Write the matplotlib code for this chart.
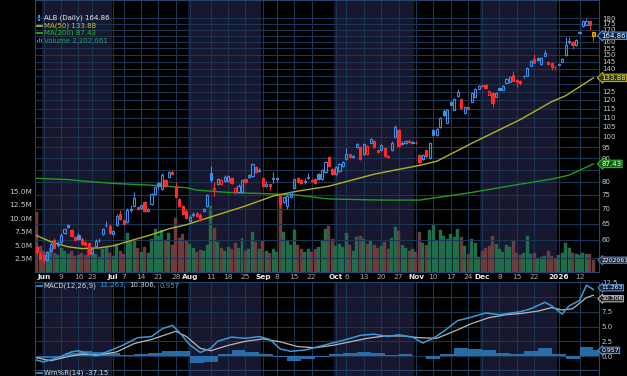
import numpy as np
import pandas as pd
import matplotlib
matplotlib.use("Agg")
import matplotlib.pyplot as plt
from matplotlib import transforms
from matplotlib.patches import Rectangle

plt.rcParams['font.family'] = ['DejaVu Sans']

# trading days shown on the chart
holidays = ["2025-06-19", "2025-07-04", "2025-09-01", "2025-11-27", "2025-12-25", "2026-01-01"]
dates = pd.bdate_range("2025-05-29", "2026-01-16")
dates = dates[~dates.isin(pd.to_datetime(holidays))]

opens = [58.0, 56.1, 55.6, 54.4, 56.9, 59.9, 58.6, 59.5, 62.2, 64.7,
         63.1, 61.0, 61.6, 60.4, 59.5, 59.2, 56.2, 58.3, 59.9, 61.9,
         64.5, 64.4, 61.8, 64.7, 68.3, 66.3, 65.6, 69.7, 71.0, 70.6,
         70.3, 72.3, 69.2, 71.6, 75.3, 79.5, 77.2, 80.7, 81.9, 84.0,
         78.3, 73.5, 70.9, 69.3, 66.0, 68.3, 68.6, 68.0, 69.3, 71.0,
         83.5, 77.6, 79.1, 79.1, 80.3, 80.3, 81.5, 76.0, 76.2, 76.0,
         81.1, 81.9, 82.3, 86.0, 85.0, 81.5, 78.4, 79.0, 81.3, 81.3,
         74.5, 72.4, 71.0, 74.2, 77.6, 81.5, 80.7, 80.0, 81.5, 80.8,
         81.1, 83.1, 81.1, 83.9, 90.3, 85.2, 83.1, 84.3, 86.6, 89.5,
         91.6, 90.5, 94.9, 94.9, 91.6, 91.6, 97.2, 97.7, 93.5, 93.5,
         94.5, 91.0, 93.5, 99.7, 103.2, 96.5, 96.8, 97.9, 97.2, 97.2,
         91.2, 89.5, 93.5, 89.9, 103.2, 101.1, 104.7, 113.8, 107.3, 119.0,
         114.4, 122.5, 120.7, 112.7, 115.6, 119.0, 121.9, 126.8, 128.9, 129.3,
         123.2, 124.4, 121.9, 127.1, 126.2, 130.6, 131.3, 135.9, 132.6, 131.9,
         134.9, 135.2, 142.1, 147.1, 147.8, 143.5, 149.2, 144.9, 144.2, 141.5,
         143.0, 144.9, 149.9, 160.7, 159.9, 157.5, 168.0, 173.0, 174.3, 177.0,
         168.0]
highs = [58.6, 56.9, 56.2, 56.8, 59.5, 60.5, 59.8, 62.2, 63.8, 65.0,
         63.5, 61.3, 62.0, 60.8, 59.8, 59.5, 57.8, 60.2, 60.6, 63.8,
         66.0, 64.8, 63.0, 68.3, 69.5, 66.6, 70.2, 71.5, 76.0, 71.0,
         71.5, 72.8, 70.3, 75.8, 78.5, 80.0, 83.5, 81.3, 84.5, 84.8,
         80.0, 74.0, 71.3, 69.8, 67.8, 68.8, 69.0, 68.5, 70.2, 75.5,
         86.4, 80.0, 81.5, 81.2, 82.7, 82.8, 82.0, 78.0, 79.0, 81.2,
         81.5, 83.0, 87.9, 86.5, 85.5, 82.0, 80.3, 79.3, 84.0, 82.0,
         75.5, 74.6, 75.0, 76.5, 81.6, 82.0, 81.0, 81.5, 83.5, 81.2,
         81.5, 83.6, 85.2, 88.8, 91.0, 85.6, 86.4, 88.0, 88.6, 94.5,
         92.0, 91.5, 96.8, 95.3, 96.8, 95.8, 99.5, 98.2, 94.0, 96.3,
         95.0, 91.5, 97.7, 106.2, 104.0, 98.0, 98.5, 99.0, 98.0, 97.8,
         92.0, 91.8, 94.0, 97.3, 103.7, 104.2, 110.5, 114.5, 114.6, 119.5,
         121.3, 126.5, 121.3, 116.5, 116.2, 125.0, 127.3, 129.2, 129.3, 129.8,
         126.0, 124.9, 125.0, 127.6, 129.2, 133.7, 135.0, 138.5, 133.0, 132.3,
         135.9, 141.2, 146.2, 150.5, 148.3, 148.3, 153.5, 145.3, 144.6, 142.0,
         144.2, 148.0, 163.9, 163.5, 160.5, 162.5, 169.0, 178.5, 179.0, 178.5,
         168.5]
lows = [56.0, 54.2, 53.6, 54.0, 56.5, 57.3, 58.0, 59.0, 61.8, 63.6,
        61.0, 59.8, 60.0, 58.5, 58.2, 55.8, 55.8, 58.0, 59.4, 61.5,
        64.0, 61.8, 61.5, 64.3, 66.2, 64.6, 65.2, 69.0, 70.5, 69.5,
        70.0, 69.0, 68.8, 71.2, 75.0, 77.6, 76.8, 77.9, 81.5, 82.7,
        73.8, 70.5, 67.8, 66.5, 65.5, 67.3, 67.2, 65.9, 68.9, 70.6,
        80.0, 74.5, 78.7, 78.8, 80.0, 80.0, 79.1, 75.5, 75.8, 75.6,
        79.5, 81.5, 82.0, 83.5, 83.8, 77.9, 78.0, 77.0, 79.5, 80.0,
        70.3, 72.0, 69.9, 73.8, 77.2, 79.5, 79.1, 79.3, 81.0, 79.9,
        79.0, 80.7, 80.7, 83.5, 86.0, 82.7, 82.7, 84.0, 86.2, 89.0,
        89.9, 90.0, 94.5, 89.0, 91.2, 91.2, 96.8, 94.5, 92.2, 93.0,
        90.3, 90.0, 93.0, 99.2, 95.0, 95.8, 96.5, 97.0, 96.8, 96.5,
        87.5, 89.0, 90.3, 89.5, 100.6, 100.6, 104.2, 111.0, 107.0, 116.8,
        114.0, 122.0, 115.0, 112.2, 114.5, 118.5, 121.5, 126.4, 127.9, 126.6,
        122.8, 116.0, 121.5, 125.8, 125.8, 130.2, 131.0, 131.5, 128.0, 129.3,
        134.0, 134.8, 141.7, 143.8, 145.8, 143.0, 148.8, 143.1, 139.5, 139.5,
        142.5, 144.5, 149.5, 158.5, 154.5, 157.0, 166.5, 172.5, 173.5, 169.6,
        160.5]
closes = [56.6, 54.7, 54.2, 56.4, 58.9, 57.8, 58.9, 61.6, 63.4, 64.0,
          61.3, 60.1, 60.4, 58.9, 58.6, 56.1, 57.5, 59.8, 60.1, 63.4,
          64.7, 62.2, 62.6, 67.6, 66.6, 65.0, 69.6, 70.0, 73.8, 70.0,
          71.3, 69.3, 69.8, 75.3, 77.9, 78.2, 82.7, 78.3, 83.9, 83.1,
          74.2, 70.9, 68.2, 66.9, 67.3, 67.9, 67.6, 66.3, 69.9, 74.9,
          80.7, 77.3, 81.1, 80.7, 81.9, 82.3, 79.5, 77.5, 78.5, 80.7,
          79.9, 82.7, 87.3, 83.9, 84.3, 78.3, 79.3, 78.4, 81.5, 81.7,
          71.6, 74.2, 74.6, 76.0, 81.1, 79.9, 79.5, 80.3, 81.9, 80.3,
          79.5, 81.1, 84.7, 88.2, 86.4, 83.1, 86.0, 87.3, 88.2, 91.6,
          90.3, 90.8, 96.3, 89.5, 96.3, 95.3, 98.7, 94.9, 92.6, 95.8,
          90.8, 90.5, 97.2, 105.2, 95.3, 96.8, 97.7, 97.4, 97.6, 96.8,
          88.2, 91.2, 90.8, 96.8, 101.1, 103.7, 110.0, 111.6, 114.0, 117.2,
          120.7, 125.0, 115.5, 116.0, 115.0, 124.4, 126.8, 128.7, 128.3, 127.0,
          125.6, 118.4, 124.4, 126.2, 128.7, 133.2, 134.5, 131.9, 131.3, 130.6,
          135.2, 140.7, 145.6, 144.2, 146.3, 147.8, 151.4, 143.5, 141.4, 141.0,
          143.5, 147.0, 157.5, 159.5, 157.5, 161.5, 167.1, 177.3, 177.6, 173.5,
          164.86]
# volume in millions of shares
volume = [11.1, 4.8, 4.0, 3.6, 4.5, 3.6, 3.2, 4.4, 4.0, 3.4,
          3.9, 3.0, 3.2, 3.5, 3.1, 4.6, 3.8, 3.3, 2.8, 4.2,
          4.6, 3.6, 3.0, 5.2, 4.0, 3.3, 7.3, 5.8, 6.0, 4.4,
          3.8, 4.7, 3.6, 6.2, 8.0, 6.7, 7.9, 6.0, 7.2, 5.0,
          10.0, 6.3, 7.0, 6.0, 5.2, 4.4, 3.8, 4.1, 3.9, 5.0,
          12.3, 8.2, 5.5, 4.4, 4.0, 4.6, 4.2, 5.4, 4.5, 6.3,
          4.0, 4.2, 7.4, 5.5, 4.3, 5.8, 4.0, 3.6, 4.2, 3.8,
          13.8, 7.5, 6.0, 5.0, 7.8, 5.0, 4.2, 3.8, 4.2, 3.7,
          4.3, 4.6, 6.0, 8.0, 8.6, 6.2, 4.8, 5.2, 4.6, 7.2,
          5.0, 4.0, 6.6, 6.8, 6.2, 5.2, 6.0, 5.0, 4.5, 4.8,
          5.5, 4.2, 6.4, 8.4, 7.6, 5.0, 4.4, 4.0, 4.2, 3.8,
          7.5, 5.4, 5.0, 7.8, 9.0, 6.0, 7.8, 6.8, 6.2, 7.0,
          6.6, 8.0, 6.6, 4.8, 3.4, 6.2, 5.4, 2.8, 4.0, 4.4,
          4.8, 6.8, 5.2, 4.2, 3.8, 5.0, 4.6, 6.0, 3.6, 3.2,
          3.6, 6.7, 3.3, 3.5, 2.5, 2.8, 3.0, 4.0, 3.0, 2.4,
          3.2, 3.6, 5.4, 4.5, 3.5, 3.4, 3.2, 3.5, 3.3, 3.4,
          2.202061]

# moving averages (day index, value)
ma50_days = [0, 4, 9, 13, 18, 22, 26, 33, 38, 43, 51, 60, 68, 75, 84, 97,
             110, 115, 125, 139, 144, 148, 152, 160]
ma50_vals = [61.3, 59.5, 58.0, 57.5, 57.7, 58.3, 59.5, 61.6, 63.4, 64.7, 67.6,
             71.0, 74.6, 76.4, 78.3, 83.1, 86.8, 88.6, 96.8, 108.9, 114.4,
             119.0, 122.5, 133.88]
ma200_days = [0, 9, 16, 23, 33, 43, 46, 55, 65, 75, 84, 99, 110, 124, 139,
              148, 153, 160]
ma200_vals = [81.4, 80.9, 80.0, 79.3, 78.7, 77.7, 76.8, 75.9, 75.5, 74.9,
              73.5, 73.1, 73.1, 75.7, 79.1, 81.1, 82.7, 87.43]

macd_days = [0, 2, 6, 10, 12, 15, 17, 21, 25, 29, 33, 36, 39, 41, 44, 47,
             50, 52, 56, 60, 64, 67, 70, 73, 77, 81, 85, 89, 93, 97, 101,
             104, 108, 111, 114, 117, 121, 125, 129, 133, 139, 142, 146,
             148, 151, 153, 156, 158, 160]
macd_vals = [-0.7, -1.0, -0.3, 0.7, 0.9, 0.3, 0.0, 0.9, 1.9, 3.1, 3.3, 4.6,
             5.2, 4.0, 1.9, 0.6, 1.3, 2.5, 3.2, 3.0, 3.3, 2.8, 1.2, 0.8, 1.0,
             1.6, 2.2, 2.8, 3.5, 3.7, 3.3, 3.6, 3.2, 2.2, 3.0, 4.2, 6.0, 6.6,
             7.3, 7.0, 7.5, 8.0, 9.1, 8.5, 7.1, 8.5, 9.4, 12.0, 11.263]
signal_days = [0, 4, 9, 13, 18, 23, 28, 33, 38, 40, 43, 47, 50, 55, 60, 65,
               70, 75, 80, 85, 90, 95, 100, 105, 110, 115, 120, 125, 130,
               135, 139, 144, 148, 151, 154, 158, 160]
signal_vals = [-0.3, -0.8, -0.1, 0.3, 0.2, 0.7, 2.1, 2.8, 3.8, 4.2, 3.3, 1.3,
               0.9, 1.8, 2.5, 2.9, 2.4, 1.6, 1.4, 1.8, 2.4, 3.0, 3.4, 3.4,
               3.1, 3.0, 4.2, 5.5, 6.5, 7.0, 7.2, 7.6, 8.2, 7.8, 8.0, 9.9,
               10.306]
hist_days = list(range(0, 161, 4))
hist_vals = [-0.3, -0.3, 0.5, 0.8, 0.6, 0.5, 0.1, 0.4, 0.5, 0.8, 0.9, -1.2,
             -1.0, 0.3, 1.0, 0.6, 0.4, -0.2, -0.9, -0.5, -0.2, 0.3, 0.5, 0.6,
             0.5, 0.2, 0.3, 0.0, -0.5, 0.4, 1.3, 1.2, 1.0, 0.5, 0.4, 0.8, 1.3,
             0.4, -0.5, 1.5, 0.957]

BLUE = '#3c8ee6'
RED = '#ff2a2a'
BG = '#000000'
SHADE = '#17172f'
GRID = '#1b3552'
SPINE = '#26456a'
TXT = '#c8c8c8'
FS = 5.0

days = np.arange(len(dates))
o = np.array(opens)
h = np.array(highs)
l = np.array(lows)
c = np.array(closes)
prev = np.r_[c[0] + 1, c[:-1]]
up = c >= prev
cols = np.where(up, BLUE, RED)

# label positions: first trading day of each month + Mondays
lab_days, lab_txt, lab_bold = [], [], []
for i, d in enumerate(dates):
    if i > 0 and d.month != dates[i - 1].month:
        lab_days.append(i)
        lab_txt.append('2026' if d.month == 1 else d.strftime('%b'))
        lab_bold.append(True)
month_days = list(lab_days)
for i, d in enumerate(dates):
    if d.weekday() == 0 and i > 0 and all(not (-3 <= i - m <= 2) for m in month_days):
        lab_days.append(i)
        lab_txt.append(str(d.day))
        lab_bold.append(False)
order = np.argsort(lab_days)
lab_days = [lab_days[k] for k in order]
lab_txt = [lab_txt[k] for k in order]
lab_bold = [lab_bold[k] for k in order]

# shaded months
shade_spans = []
for m in [6, 8, 10, 12]:
    idx = [i for i, d in enumerate(dates) if d.month == m]
    shade_spans.append((idx[0] - 0.5, idx[-1] + 0.5))

W, H = 627, 376
fig = plt.figure(figsize=(W / 100, H / 100), dpi=100, facecolor=BG)
L, R = 35, 599
ax_vol = fig.add_axes([L / W, 1 - 272 / H, (R - L) / W, 272 / H])
ax = ax_vol.twinx()
axm = fig.add_axes([L / W, 1 - 370 / H, (R - L) / W, 88 / H])
axw = fig.add_axes([L / W, -0.1, (R - L) / W, 0.1 + 6 / H])

XL = (-0.49, 161.6)
for a in (ax_vol, axm, axw):
    a.set_facecolor(BG)
    for s0, s1 in shade_spans:
        a.axvspan(s0, s1, color=SHADE, lw=0, zorder=0)
    for x in lab_days:
        a.axvline(x, color=GRID, lw=0.8, zorder=0.5)
    a.set_xlim(*XL)
    for sp in a.spines.values():
        sp.set_color(SPINE)
        sp.set_linewidth(0.8)
ax.set_zorder(ax_vol.get_zorder() + 1)
ax.patch.set_visible(False)
for sp in ax.spines.values():
    sp.set_visible(False)

# volume
vcols = np.where(up, '#1f6e4b', '#6e3c3c')
ax_vol.bar(days, volume, width=0.86, color=vcols, edgecolor=vcols, lw=0.3, zorder=1)
ax_vol.set_ylim(0, 50.7)
vt = [2.5, 5.0, 7.5, 10.0, 12.5, 15.0]
ax_vol.set_yticks(vt, [f'{v:.1f}M' for v in vt])
ax_vol.yaxis.set_ticks_position('left')
ax_vol.tick_params(axis='y', length=0, pad=2, labelsize=5.3, labelcolor=TXT)

# date labels on the shared x axis
ax_vol.set_xticks(lab_days, lab_txt)
ax_vol.tick_params(axis='x', length=0, pad=1.2, labelsize=5.3, labelcolor='#a8a8a8')
for t, b in zip(ax_vol.get_xticklabels(), lab_bold):
    if b:
        t.set_fontweight('bold')
        t.set_color('#e8e8e8')

# price
ax.set_yscale('log')
ax.set_ylim(51.2, 196.8)
pt = list(range(55, 185, 5))
hidden = {55, 85, 130, 135, 165}
shown = [v for v in pt if v not in hidden]
ax.set_yticks(shown, [str(v) for v in shown])
ax.yaxis.set_minor_locator(plt.NullLocator())
ax.tick_params(axis='y', length=0, pad=2, labelsize=5.0, labelcolor=TXT)
for v in pt:
    ax.axhline(v, color=GRID, lw=0.8, zorder=0.5)

ax.plot(ma200_days, ma200_vals, color='#1f9a1f', lw=1.0, zorder=2)
ax.plot(ma50_days, ma50_vals, color='#b4b020', lw=1.0, zorder=2)

bot = np.minimum(o, c)
top = np.maximum(o, c)
ax.vlines(days, l, bot, colors=cols, lw=0.8, zorder=3)
ax.vlines(days, top, h, colors=cols, lw=0.8, zorder=3)
face = [col if cc < oo else 'none' for col, cc, oo in zip(cols, c, o)]
edge = list(cols)
face[-1] = '#e03a1a'
edge[-1] = '#e0a800'
ax.bar(days, np.maximum(top - bot, 0.15), bottom=bot, width=0.62,
       color=face, edgecolor=edge, lw=0.8, zorder=4)
ax.set_xlim(*XL)


def tag(a, y, text, fc, ec, tc='#ffffff', fs=5.0):
    tr = transforms.blended_transform_factory(a.transAxes, a.transData)
    a.text(1.004, y, text, transform=tr, fontsize=fs, color=tc, ha='left',
           va='center', clip_on=False, zorder=20,
           bbox=dict(boxstyle='larrow,pad=0.1', fc=fc, ec=ec, lw=0.8))


tag(ax, closes[-1], f'{closes[-1]:.2f}', '#10213a', '#4a8fd8')
tag(ax, ma50_vals[-1], f'{ma50_vals[-1]:.2f}', '#3a3a08', '#b4b020', '#e8e8c0')
tag(ax, ma200_vals[-1], f'{ma200_vals[-1]:.2f}', '#135d13', '#2eb82e')
tag(ax_vol, volume[-1], '2202061', '#1e2c44', '#5a80b0', fs=4.4)


def fx(px):
    return px / W


def fy(px):
    return 1 - px / H


renderer = fig.canvas.get_renderer()


def text_run(x_px, y_px, parts):
    # place coloured pieces one after another
    x = x_px
    for s, col in parts:
        t = fig.text(fx(x), fy(y_px), s, fontsize=FS, color=col, va='center', ha='left')
        x += t.get_window_extent(renderer=renderer).width + 3


def icon_candle(x_px, y_px, col):
    fig.add_artist(Rectangle((fx(x_px), fy(y_px + 2.5)), 2.5 / W, 5 / H,
                             transform=fig.transFigure, fc=col, ec=col, lw=0))


def icon_line(x_px, y_px, col):
    fig.add_artist(plt.Line2D([fx(x_px), fx(x_px + 5)], [fy(y_px), fy(y_px)],
                              color=col, lw=1.2))


def icon_bars(x_px, y_px, col):
    for dx, hh in [(0, 3), (2, 5), (4, 4)]:
        fig.add_artist(Rectangle((fx(x_px + dx), fy(y_px + 2.5)), 1.4 / W, hh / H,
                                 transform=fig.transFigure, fc=col, lw=0))


# legend
icon_candle(37.5, 18, BLUE)
text_run(43.5, 18, [('ALB (Daily) 164.86', '#e8e8e8')])
icon_line(37, 25.5, '#c8c420')
text_run(43.5, 25.5, [('MA(50) 133.88', '#c8c420')])
icon_line(37, 33, '#2eb82e')
text_run(43.5, 33, [('MA(200) 87.43', '#2eb82e')])
icon_bars(37, 40.5, '#2e9e6e')
text_run(43.5, 40.5, [('Volume 2,202,061', '#2e9e6e')])

# MACD panel
axm.set_ylim(-2.37, 12.54)
mt = [0.0, 2.5, 5.0, 7.5, 12.5]
axm.yaxis.tick_right()
axm.set_yticks(mt, [f'{v:.1f}' for v in mt])
axm.tick_params(axis='y', length=0, pad=2, labelsize=5.0, labelcolor=TXT)
axm.set_xticks([])
for v in [0.0, 2.5, 5.0, 7.5, 10.0, 12.5]:
    axm.axhline(v, color=GRID, lw=0.8, zorder=0.5)
axm.bar(hist_days, hist_vals, width=4, align='edge', color='#2c78b8',
        alpha=0.9, lw=0, zorder=2)
axm.plot(signal_days, signal_vals, color='#b8b8b8', lw=0.9, zorder=3)
axm.plot(macd_days, macd_vals, color='#3a9ad9', lw=1.1, zorder=4)
tag(axm, macd_vals[-1] + 0.3, '11.263', '#10213a', '#4a8fd8', fs=4.5)
tag(axm, signal_vals[-1] - 0.6, '10.306', '#2a2a2a', '#b0b0b0', fs=4.5)
tag(axm, hist_vals[-1], '0.957', '#10213a', '#4a8fd8', fs=4.5)

icon_line(37, 285.5, '#3a9ad9')
text_run(43.5, 285.5, [('MACD(12,26,9)', '#d8d8d8'), ('11.263,', '#3a9ad9'),
                       ('10.306,', '#d8d8d8'), ('0.957', '#3a9ad9')])

# bottom Williams %R panel (mostly cut off)
axw.set_xticks([])
axw.set_yticks([])
icon_line(37, 372.5, '#3a9ad9')
text_run(43.5, 372.5, [('Wm%R(14) -37.15', '#d8d8d8')])

fig.savefig('out.png', dpi=100, facecolor=BG)
